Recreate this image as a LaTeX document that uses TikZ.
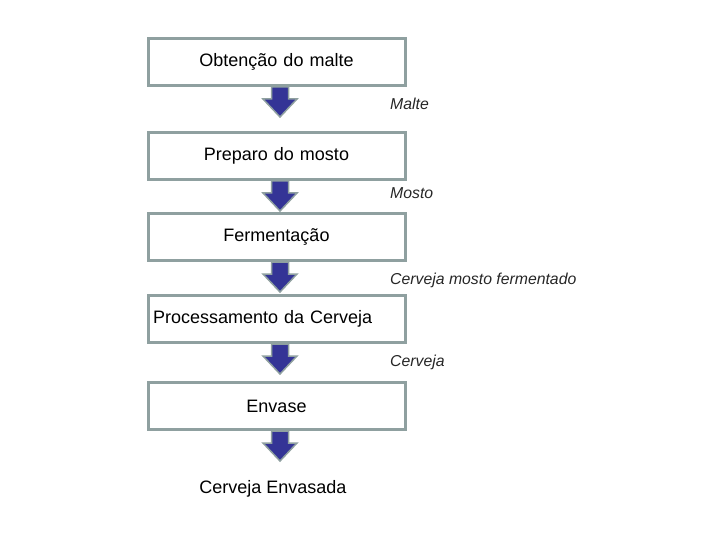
\documentclass[tikz,border=0pt]{standalone}
\usepackage{fontspec}
\setmainfont{Liberation Sans}
\usepackage{xcolor}
\usetikzlibrary{positioning, calc}

\definecolor{boxgray}{RGB}{143,160,160}
\definecolor{arrowblue}{RGB}{52,52,150}

\begin{document}
\begin{tikzpicture}[x=1pt, y=-1pt, node distance=30pt]

\tikzstyle{stage}=[rectangle, draw=boxgray, line width=3pt, fill=white, minimum width=257pt, minimum height=47pt, text width=247pt, inner xsep=5pt, align=center, font=\fontsize{18}{21}\selectfont]
\tikzstyle{product}=[anchor=west, inner sep=0pt, text=black!85, font=\fontsize{15.8}{18}\selectfont\itshape]
\tikzstyle{flow}=[draw=boxgray, fill=arrowblue, line width=1.5pt, to path={let \p1=(\tikztostart) in (\x1-8.5pt,\y1) -- (\x1+8.5pt,\y1) -- (\x1+8.5pt,\y1-12pt) -- (\x1+17pt,\y1-12pt) -- (\x1,\y1-30pt) -- (\x1-17pt,\y1-12pt) -- (\x1-8.5pt,\y1-12pt) -- cycle}]

\useasboundingbox (0,0) rectangle (720,540);

\coordinate (col) at (280,0);

\node (obt) [stage] at (276.5,62) {Obtenção do malte};
\node (prep) [stage, below=44pt of obt] {Preparo do mosto};
\node (ferm) [stage, below=31pt of prep] {Fermentação};
\node (proc) [stage, below=32pt of ferm, align=left] {Processamento da Cerveja};
\node (env) [stage, below=37pt of proc] {Envase};
\node (final) [below=46pt of env, xshift=-3.5pt, font=\fontsize{18}{21}\selectfont] {Cerveja Envasada};

\node (malte) [product] at (390,104) {Malte};
\node (mosto) [product] at (390,193) {Mosto};
\node (mfer) [product] at (390,280) {Cerveja mosto fermentado};
\node (cerv) [product] at (390,362) {Cerveja};

% Fluxo
\draw[flow] (obt.south -| col) to (prep.north -| col);
\draw[flow] (prep.south -| col) to (ferm.north -| col);
\draw[flow] (ferm.south -| col) to (proc.north -| col);
\draw[flow] (proc.south -| col) to (env.north -| col);
\draw[flow] (env.south -| col) to (final.north -| col);

\end{tikzpicture}
\end{document}
